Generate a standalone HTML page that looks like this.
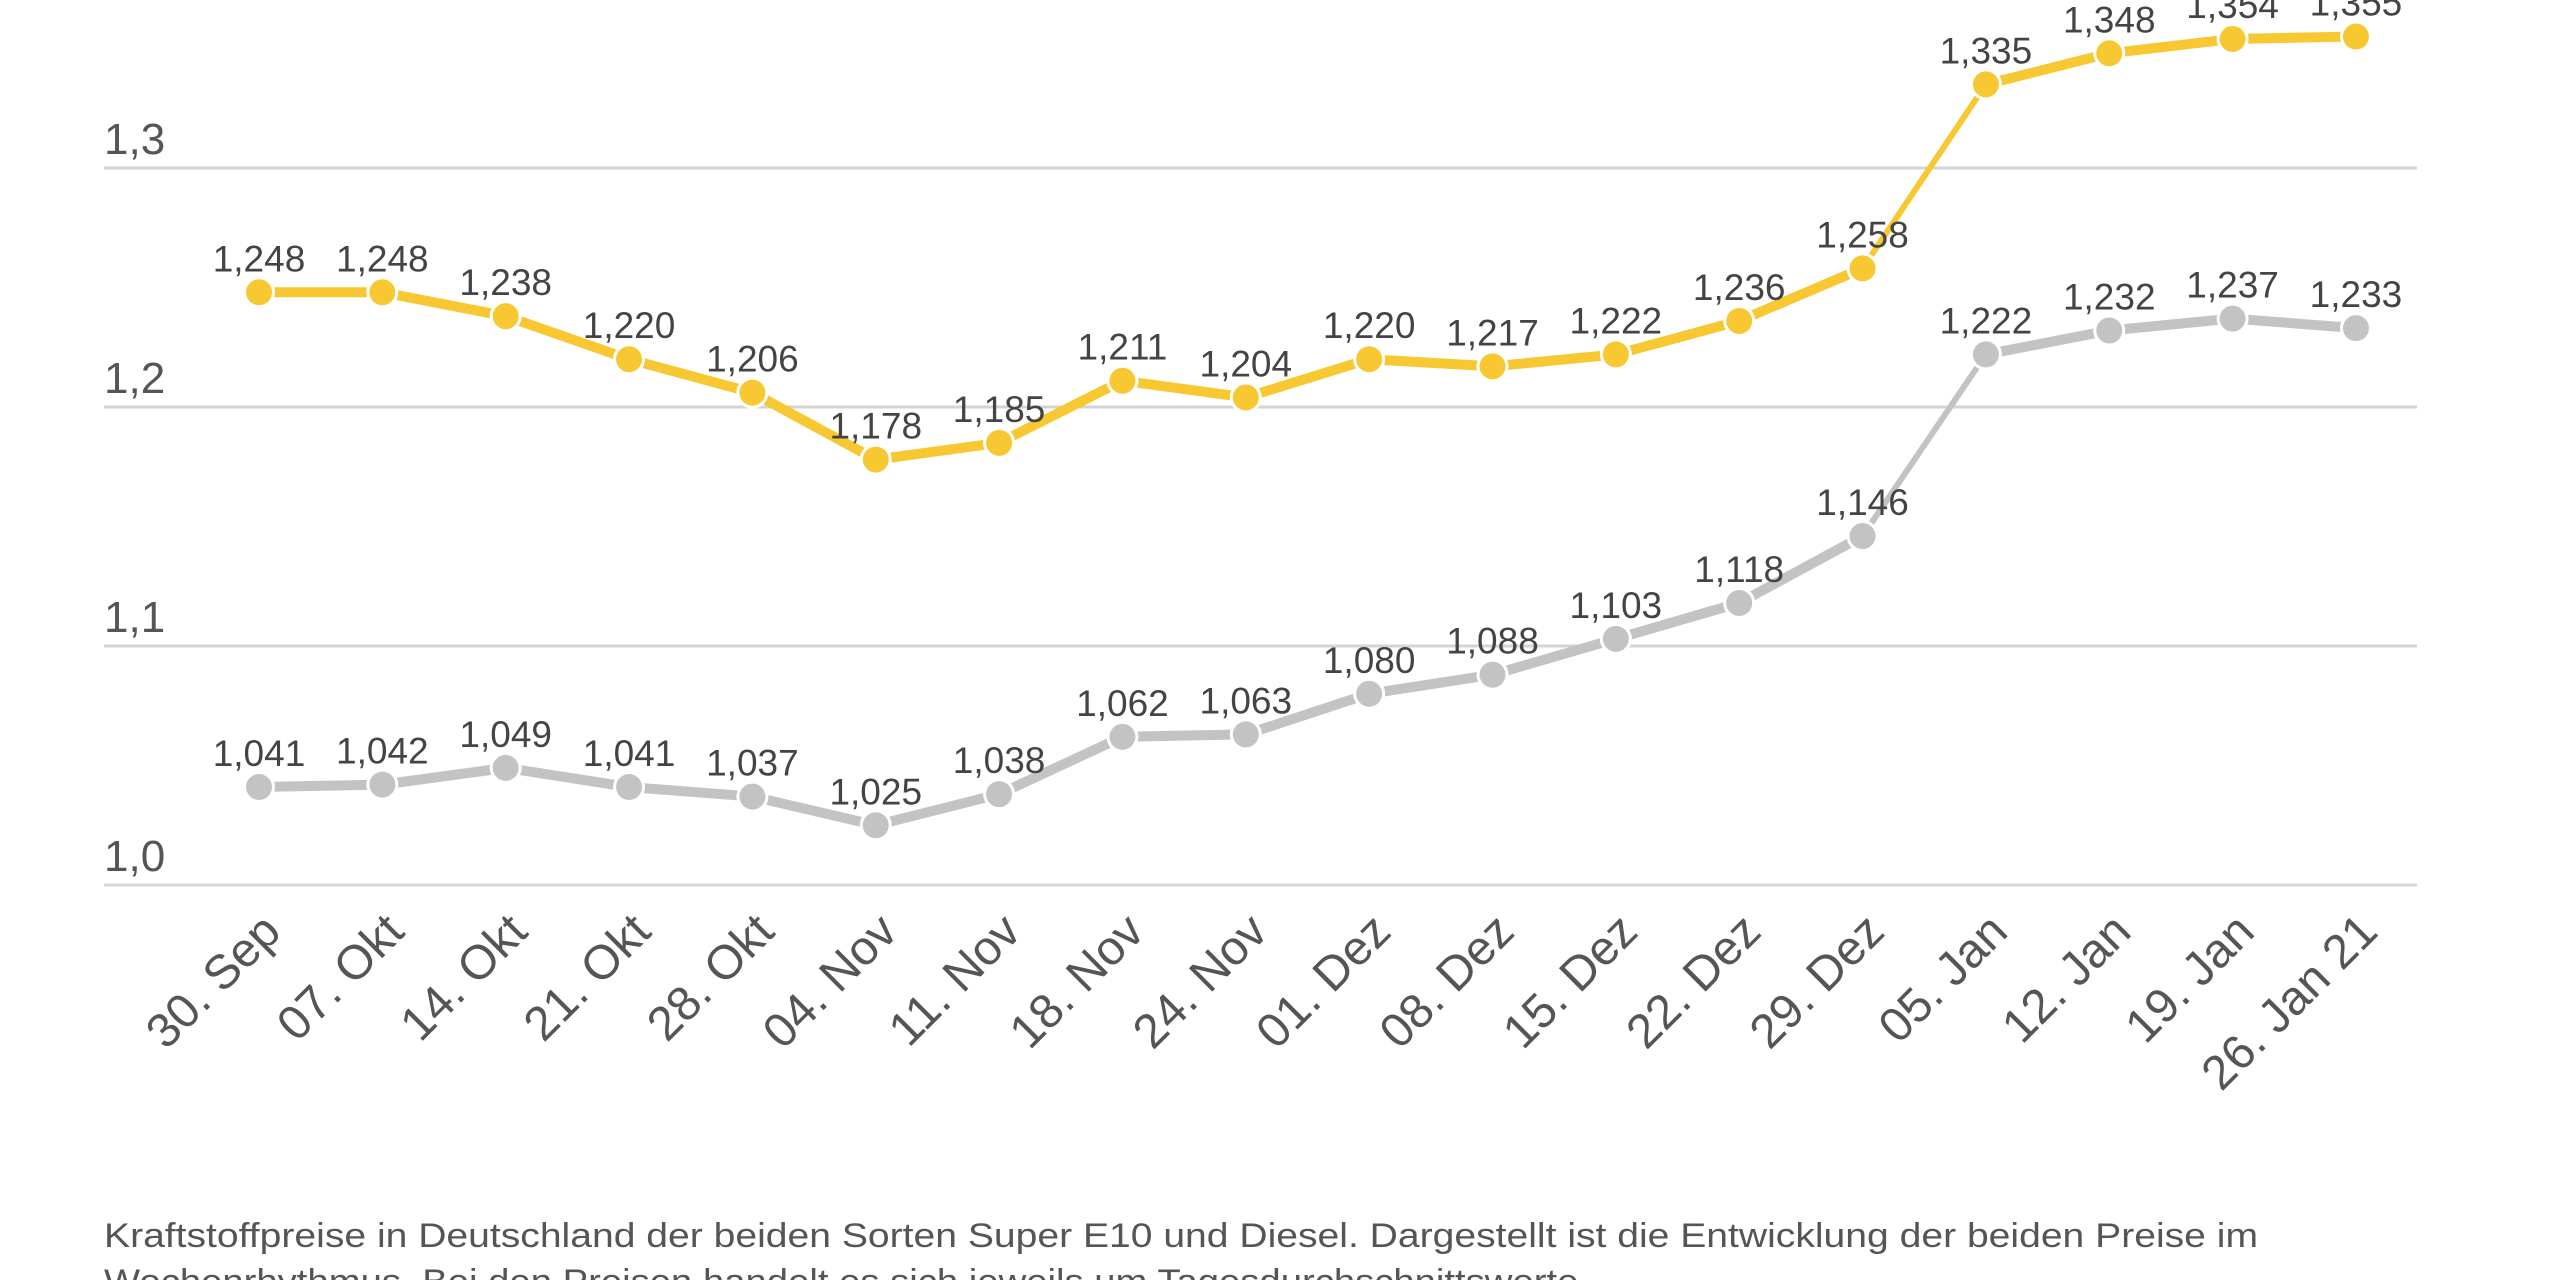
<!DOCTYPE html>
<html><head><meta charset="utf-8"><style>
html,body{margin:0;padding:0;background:#fff;width:2560px;height:1280px;overflow:hidden}
svg{display:block}
text{font-family:"Liberation Sans",sans-serif}
</style></head><body>
<svg id="c" width="2560" height="1280" viewBox="0 0 2560 1280" xmlns="http://www.w3.org/2000/svg">
<g stroke="#d4d4d4" stroke-width="3">
<line x1="104" y1="168" x2="2417" y2="168"/>
<line x1="104" y1="407" x2="2417" y2="407"/>
<line x1="104" y1="646" x2="2417" y2="646"/>
<line x1="104" y1="885" x2="2417" y2="885"/>
</g>
<g fill="#555" font-size="44">
<text x="104" y="154">1,3</text>
<text x="104" y="393">1,2</text>
<text x="104" y="632">1,1</text>
<text x="104" y="871">1,0</text>
</g>
<g id="series"></g>
<g id="xl" fill="#555" font-size="48"></g>
<text x="104" y="1247" fill="#555" font-size="34" textLength="2154" lengthAdjust="spacingAndGlyphs">Kraftstoffpreise in Deutschland der beiden Sorten Super E10 und Diesel. Dargestellt ist die Entwicklung der beiden Preise im</text>
<text x="104" y="1293" fill="#555" font-size="34" textLength="1485" lengthAdjust="spacingAndGlyphs">Wochenrhythmus. Bei den Preisen handelt es sich jeweils um Tagesdurchschnittswerte.</text>
</svg>
<script>
var e10=[1.248,1.248,1.238,1.220,1.206,1.178,1.185,1.211,1.204,1.220,1.217,1.222,1.236,1.258,1.335,1.348,1.354,1.355];
var die=[1.041,1.042,1.049,1.041,1.037,1.025,1.038,1.062,1.063,1.080,1.088,1.103,1.118,1.146,1.222,1.232,1.237,1.233];
var lab=["30. Sep","07. Okt","14. Okt","21. Okt","28. Okt","04. Nov","11. Nov","18. Nov","24. Nov","01. Dez","08. Dez","15. Dez","22. Dez","29. Dez","05. Jan","12. Jan","19. Jan","26. Jan 21"];
var NS="http://www.w3.org/2000/svg";
function X(i){return 259+i*123.35}
function Y(v){return 885-(v-1)*2390}
var g=document.getElementById('series');
function el(n,a,p){var e=document.createElementNS(NS,n);for(var k in a)e.setAttribute(k,a[k]);(p||g).appendChild(e);return e}
function draw(d,col){
 for(var i=0;i<d.length-1;i++){
  var steep=Math.abs(Y(d[i+1])-Y(d[i]))>80;
  el('line',{x1:X(i),y1:Y(d[i]),x2:X(i+1),y2:Y(d[i+1]),stroke:col,'stroke-width':steep?6:10});
 }
 for(var i=0;i<d.length;i++){
  el('circle',{cx:X(i),cy:Y(d[i]),r:16,fill:'#fff'});
  el('circle',{cx:X(i),cy:Y(d[i]),r:13,fill:col});
  var t=el('text',{x:X(i),y:Y(d[i])-21,'text-anchor':'middle','font-size':37,fill:'#444'});
  t.textContent=d[i].toFixed(3).replace('.',',');
 }
}
draw(die,'#c3c3c3');
draw(e10,'#f7c832');
var xl=document.getElementById('xl');
for(var i=0;i<lab.length;i++){
 var x=X(i)+24,y=934;
 var t=el('text',{x:x,y:y,'text-anchor':'end',transform:'rotate(-45 '+x+' '+y+')'},xl);
 t.textContent=lab[i];
}
</script>
</body></html>
